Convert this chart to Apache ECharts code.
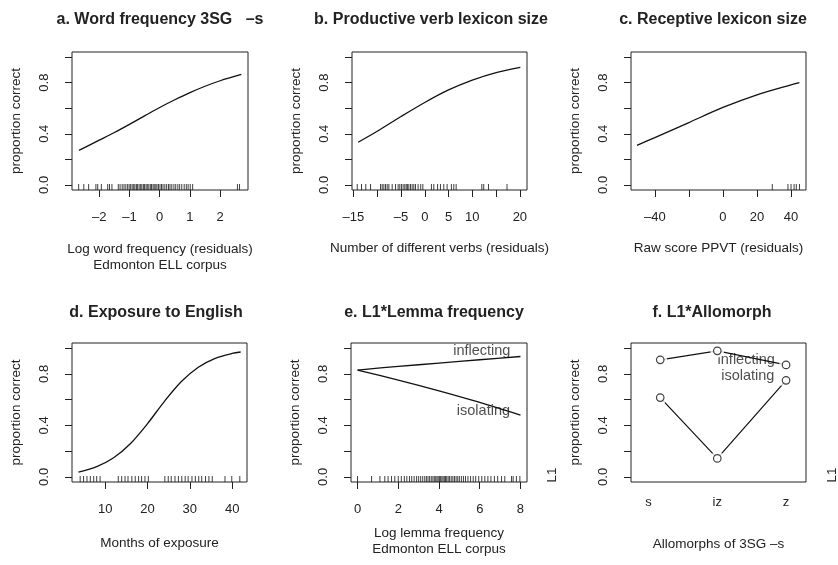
<!DOCTYPE html>
<html>
<head>
<meta charset="utf-8">
<script src="https://cdn.jsdelivr.net/npm/echarts@6/dist/echarts.min.js"></script>
<style>
  html, body { margin: 0; padding: 0; background: #fff; }
  #chart { width: 838px; height: 565px; }
</style>
</head>
<body>
<div id="chart"></div>
<script>
// a. word frequency 3SG -s
const freqX = [-2.67, -2, -1.5, -1, -0.5, 0, 0.5, 1, 1.5, 2, 2.7];
const freqY = [0.27, 0.35, 0.41, 0.474, 0.54, 0.606, 0.666, 0.722, 0.772, 0.815, 0.864];
const freqRug = [-2.68, -2.51, -2.35, -2.11, -2.05, -1.93, -1.72, -1.66, -1.58, -1.37, -1.31, -1.24,
  -1.18, -1.12, -1.06, -1.01, -0.96, -0.91, -0.86, -0.82, -0.77, -0.73, -0.68, -0.63, -0.59, -0.54,
  -0.5, -0.45, -0.41, -0.36, -0.31, -0.27, -0.22, -0.18, -0.13, -0.09, -0.04, 0.01, 0.06, 0.11, 0.17,
  0.23, 0.29, 0.34, 0.4, 0.47, 0.53, 0.6, 0.66, 0.73, 0.81, 0.88, 0.94, 1.01, 1.09, 2.57, 2.64];
const freqTicks = [-2, -1, 0, 1, 2];

// b. productive verb lexicon
const verbX = [-14, -10, -5, 0, 5, 10, 15, 20.1];
const verbY = [0.334, 0.42, 0.535, 0.645, 0.743, 0.82, 0.879, 0.92];
const verbRug = [-14.2, -13.3, -12.4, -11.4, -9.3, -8.95, -8.6, -8.25, -7.9, -7.55, -6.85, -6.15,
  -5.6, -5.25, -4.9, -4.55, -4.2, -3.9, -3.65, -3.35, -3.0, -2.65, -2.3, -1.95, -1.4, -0.85, -0.4,
  1.4, 1.9, 2.7, 3.3, 4.0, 4.7, 5.6, 6.1, 6.6, 12.0, 12.4, 13.4, 17.3];
const verbTicks = [-15, -10, -5, 0, 5, 10, 15, 20];
const verbLabels = [-15, -5, 0, 5, 10, 20];

// c. receptive lexicon (PPVT)
const ppvtX = [-50.5, -40, -20, 0, 20, 40, 44.9];
const ppvtY = [0.31, 0.37, 0.488, 0.606, 0.705, 0.783, 0.8];
const ppvtRug = [29, 38.2, 40, 41.8, 43.1, 45];
const ppvtTicks = [-40, -20, 0, 20, 40];
const ppvtLabels = [-40, 0, 20, 40];

// d. exposure to English
const monthX = [3.7, 8, 12, 16, 20, 24, 28, 32, 36, 40, 42];
const monthY = [0.036, 0.079, 0.148, 0.259, 0.413, 0.587, 0.741, 0.852, 0.921, 0.959, 0.97];
const monthRug = [4.1, 4.9, 5.7, 6.5, 7.3, 8.0, 8.8, 13.1, 13.9, 14.7, 15.4, 16.3, 17.1, 17.9, 18.6,
  19.4, 20.2, 24.1, 24.9, 25.6, 26.5, 27.3, 28.1, 28.9, 29.6, 30.5, 31.3, 32.1, 32.8, 33.7, 34.5, 35.3,
  38.3, 39.9, 41.8];
const monthTicks = [10, 20, 30, 40];

// e. L1 * lemma frequency
const lemmaX = [0, 2, 4, 6, 8];
const lemmaInflecting = [0.83, 0.858, 0.884, 0.91, 0.935];
const lemmaIsolating = [0.83, 0.752, 0.668, 0.578, 0.48];
const lemmaRug = [0, 0.69, 1.1, 1.34, 1.5, 1.67, 1.83, 2.0, 2.15, 2.3, 2.42, 2.55, 2.66, 2.78, 2.9,
  3.0, 3.1, 3.2, 3.3, 3.38, 3.46, 3.54, 3.62, 3.7, 3.77, 3.84, 3.9, 3.96, 4.02, 4.08, 4.14, 4.2, 4.26,
  4.32, 4.38, 4.45, 4.52, 4.6, 4.68, 4.76, 4.84, 4.92, 5.0, 5.1, 5.2, 5.3, 5.42, 5.55, 5.68, 5.8,
  5.95, 6.1, 6.25, 6.4, 6.55, 6.72, 6.88, 7.07, 7.23, 7.56, 7.64, 7.8, 7.97];
const lemmaTicks = [0, 2, 4, 6, 8];

// f. L1 * allomorph
const allomorphs = ['s', 'iz', 'z'];
const allomorphPos = [1.17, 2, 3];
const allomorphInflecting = [0.909, 0.979, 0.87];
const allomorphIsolating = [0.616, 0.143, 0.75];

const titles = ['a. Word frequency 3SG   –s', 'b. Productive verb lexicon size', 'c. Receptive lexicon size',
  'd. Exposure to English', 'e. L1*Lemma frequency', 'f. L1*Allomorph'];
const xNames = ['Log word frequency (residuals)\nEdmonton ELL corpus', 'Number of different verbs (residuals)',
  'Raw score PPVT (residuals)', 'Months of exposure', 'Log lemma frequency\nEdmonton ELL corpus',
  'Allomorphs of 3SG –s'];
const yTicks = [0, 0.2, 0.4, 0.6, 0.8, 1.0];
const yLabels = [0, 0.4, 0.8];

const FONT = 'Liberation Sans, Arial, sans-serif';
const INK = '#222';

const grids = [
  { left: 72, top: 52, width: 176, height: 138 },
  { left: 352, top: 52, width: 175, height: 138 },
  { left: 631, top: 52, width: 175, height: 138 },
  { left: 72, top: 343, width: 175, height: 139 },
  { left: 351, top: 343, width: 176, height: 139 },
  { left: 631, top: 343, width: 175, height: 139 }
].map(g => Object.assign(g, { show: true, borderColor: '#222', borderWidth: 1, backgroundColor: 'transparent' }));

const titleX = [160, 431, 713, 156, 434, 712];
const titleTop = [12, 12, 12, 305, 305, 305];

const minus = v => (v < 0 ? '–' + Math.abs(v) : String(v));

const xSpec = [
  { min: -2.9, max: 2.92, ticks: freqTicks, labels: freqTicks, gap: 51 },
  { min: -15.3, max: 21.5, ticks: verbTicks, labels: verbLabels, gap: 50 },
  { min: -54, max: 48.8, ticks: ppvtTicks, labels: ppvtLabels, gap: 50 },
  { min: 2.17, max: 43.5, ticks: monthTicks, labels: monthTicks, gap: 53 },
  { min: -0.32, max: 8.32, ticks: lemmaTicks, labels: lemmaTicks, gap: 43 },
  { min: 0.745, max: 3.29, ticks: [], labels: [1, 2, 3], gap: 54 }
];

const xAxes = xSpec.map((s, i) => ({
  gridIndex: i,
  type: 'value',
  min: s.min,
  max: s.max,
  axisLine: { show: false, onZero: false },
  splitLine: { show: false },
  axisTick: { show: i !== 5, length: 7, lineStyle: { color: INK }, customValues: s.ticks },
  axisLabel: {
    margin: i === 5 ? 14 : 21,
    fontSize: 13, color: INK, fontFamily: FONT,
    customValues: s.labels,
    formatter: i === 5 ? v => allomorphs[Math.round(v) - 1] : minus
  },
  name: xNames[i],
  nameLocation: 'middle',
  nameGap: s.gap,
  nameTextStyle: { fontSize: 13.5, color: INK, fontFamily: FONT, lineHeight: 16 }
}));

const yAxes = grids.map((g, i) => ({
  gridIndex: i,
  type: 'value',
  min: -0.04,
  max: 1.04,
  axisLine: { show: false, onZero: false },
  splitLine: { show: false },
  axisTick: { show: true, length: 7, lineStyle: { color: INK }, customValues: yTicks },
  axisLabel: {
    rotate: 90, margin: 21, fontSize: 13, color: INK, fontFamily: FONT,
    customValues: yLabels,
    formatter: v => v.toFixed(1)
  },
  name: 'proportion correct',
  nameLocation: 'middle',
  nameRotate: 90,
  nameGap: 49,
  nameTextStyle: { fontSize: 13.5, color: INK, fontFamily: FONT }
}));

const zip = (xs, ys) => xs.map((x, k) => [x, ys[k]]);

const curve = (i, xs, ys) => ({
  type: 'line', xAxisIndex: i, yAxisIndex: i,
  data: zip(xs, ys), smooth: 0.3,
  showSymbol: false, silent: true,
  lineStyle: { color: '#111', width: 1.3 }
});

const rug = (i, vals) => ({
  type: 'scatter', xAxisIndex: i, yAxisIndex: i,
  data: vals.map(v => [v, -0.04]),
  symbol: 'rect', symbolSize: [1, 6], symbolOffset: [0, -3],
  itemStyle: { color: '#111' }, silent: true, clip: false
});

const textMark = (i, items) => ({
  type: 'scatter', xAxisIndex: i, yAxisIndex: i,
  data: items.map(t => ({ value: t.at, name: t.text })),
  symbolSize: 0, silent: true, z: 1,
  label: { show: true, position: 'inside', formatter: '{b}', fontSize: 14.5, color: INK, fontFamily: FONT }
});

const allomorphLine = ys => ({
  type: 'line', xAxisIndex: 5, yAxisIndex: 5,
  data: zip(allomorphPos, ys), showSymbol: false, silent: true, z: 2,
  lineStyle: { color: '#111', width: 1.2 }
});
const allomorphGap = ys => ({
  type: 'scatter', xAxisIndex: 5, yAxisIndex: 5,
  data: zip(allomorphPos, ys), symbol: 'circle', symbolSize: 14, silent: true, z: 3,
  itemStyle: { color: '#fff' }
});
const allomorphPts = ys => ({
  type: 'scatter', xAxisIndex: 5, yAxisIndex: 5,
  data: zip(allomorphPos, ys), symbol: 'circle', symbolSize: 7.5, silent: true, z: 4,
  itemStyle: { color: '#fff', borderColor: '#111', borderWidth: 1.2 }
});

const option = {
  animation: false,
  backgroundColor: '#fff',
  textStyle: { fontFamily: FONT },
  title: titles.map((t, i) => ({
    text: t, left: titleX[i], top: titleTop[i], textAlign: 'center', padding: 0,
    textStyle: { fontSize: 16, fontWeight: 'bold', color: INK, fontFamily: FONT }
  })),
  grid: grids,
  xAxis: xAxes,
  yAxis: yAxes,
  graphic: [
    { type: 'text', x: 552, y: 475, rotation: Math.PI / 2,
      style: { text: 'L1', fill: INK, font: '13.5px ' + FONT, align: 'center', verticalAlign: 'middle' } },
    { type: 'text', x: 832, y: 475, rotation: Math.PI / 2,
      style: { text: 'L1', fill: INK, font: '13.5px ' + FONT, align: 'center', verticalAlign: 'middle' } }
  ],
  series: [
    curve(0, freqX, freqY), rug(0, freqRug),
    curve(1, verbX, verbY), rug(1, verbRug),
    curve(2, ppvtX, ppvtY), rug(2, ppvtRug),
    curve(3, monthX, monthY), rug(3, monthRug),
    textMark(4, [{ text: 'inflecting', at: [6.1, 0.977] }, { text: 'isolating', at: [6.18, 0.511] }]),
    curve(4, lemmaX, lemmaInflecting), curve(4, lemmaX, lemmaIsolating), rug(4, lemmaRug),
    textMark(5, [{ text: 'inflecting', at: [2.42, 0.906] }, { text: 'isolating', at: [2.444, 0.784] }]),
    allomorphLine(allomorphInflecting), allomorphLine(allomorphIsolating),
    allomorphGap(allomorphInflecting), allomorphGap(allomorphIsolating),
    allomorphPts(allomorphInflecting), allomorphPts(allomorphIsolating)
  ]
};

const myChart = echarts.init(document.getElementById('chart'));
myChart.setOption(option);
</script>
</body>
</html>
